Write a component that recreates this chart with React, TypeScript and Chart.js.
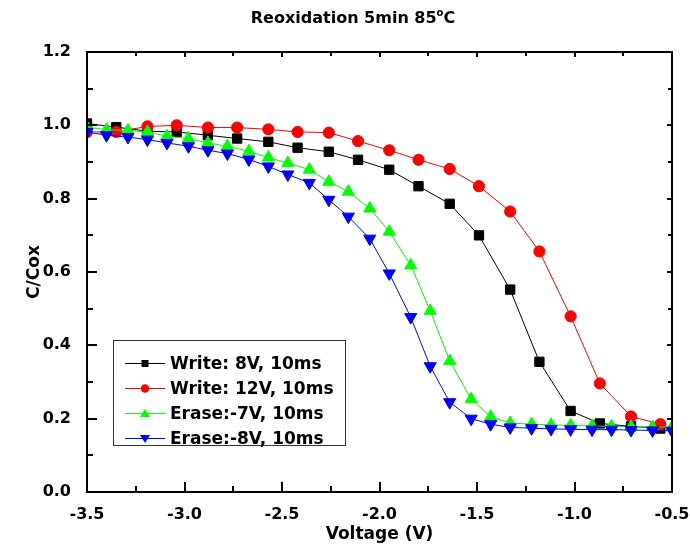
import React, { useEffect, useRef } from "react";
import { Chart, registerables } from "chart.js";

Chart.register(...registerables);

// ---- Text ----
const titleMain = "Reoxidation 5min 85";
const titleSup = "o";
const titleTail = "C";
const xAxisTitle = "Voltage (V)";
const yAxisTitle = "C/Cox";

// ---- Ticks ----
const xTickValues = [-3.5, -3.0, -2.5, -2.0, -1.5, -1.0, -0.5];
const yTickValues = [0, 0.2, 0.4, 0.6, 0.8, 1.0, 1.2];
const xMinorTicks = [-3.25, -2.75, -2.25, -1.75, -1.25, -0.75];
const yMinorTicks = [0.1, 0.3, 0.5, 0.7, 0.9, 1.1];

// ---- Series ----
const seriesLabels = [
  "Write: 8V, 10ms",
  "Write: 12V, 10ms",
  "Erase:-7V, 10ms",
  "Erase:-8V, 10ms",
];

const writeVoltages = [
  -3.5, -3.35, -3.19, -3.04, -2.88, -2.73, -2.57, -2.42, -2.26, -2.11,
  -1.95, -1.8, -1.64, -1.49, -1.33, -1.18, -1.02, -0.87, -0.71, -0.56,
];
const write8V = [
  1.005, 0.995, 0.984, 0.982, 0.973, 0.964, 0.955, 0.939, 0.928, 0.906,
  0.879, 0.834, 0.786, 0.7, 0.552, 0.355, 0.221, 0.187, 0.179, 0.173,
];
const write12V = [
  0.982, 0.982, 0.997, 1.0, 0.994, 0.994, 0.989, 0.982, 0.98, 0.957,
  0.932, 0.906, 0.881, 0.834, 0.765, 0.656, 0.479, 0.296, 0.206, 0.185,
];

const eraseVoltages = [
  -3.5, -3.4, -3.29, -3.19, -3.09, -2.98, -2.88, -2.78, -2.67, -2.57,
  -2.47, -2.36, -2.26, -2.16, -2.05, -1.95, -1.84, -1.74, -1.64, -1.53,
  -1.43, -1.33, -1.22, -1.12, -1.02, -0.91, -0.81, -0.71, -0.6, -0.5,
];
const erase7V = [
  0.995, 0.988, 0.986, 0.982, 0.97, 0.964, 0.952, 0.943, 0.929, 0.912,
  0.897, 0.879, 0.846, 0.819, 0.773, 0.71, 0.618, 0.494, 0.357, 0.253,
  0.205, 0.188, 0.185, 0.183, 0.182, 0.18, 0.179, 0.178, 0.177, 0.177,
];
const erase8V = [
  0.982, 0.973, 0.968, 0.961, 0.952, 0.943, 0.932, 0.923, 0.907, 0.888,
  0.866, 0.843, 0.797, 0.751, 0.691, 0.596, 0.477, 0.343, 0.245, 0.2,
  0.185, 0.176, 0.174, 0.172, 0.171, 0.17, 0.17, 0.169, 0.168, 0.167,
];

const seriesColors = ["#000000", "#ff0000", "#00ff00", "#0000ff"];
const seriesMarkers = ["square", "circle", "up", "down"];

const FONT = "'DejaVu Sans', 'Liberation Sans', sans-serif";

function drawMarker(ctx: CanvasRenderingContext2D, kind: string, x: number, y: number, color: string) {
  ctx.fillStyle = color;
  ctx.beginPath();
  if (kind === "square") {
    ctx.rect(x - 3.5, y - 3.5, 7, 7);
  } else if (kind === "circle") {
    ctx.arc(x, y, 4.2, 0, Math.PI * 2);
  } else if (kind === "up") {
    ctx.moveTo(x, y - 4.5);
    ctx.lineTo(x + 5, y + 3.5);
    ctx.lineTo(x - 5, y + 3.5);
    ctx.closePath();
  } else {
    ctx.moveTo(x, y + 4.5);
    ctx.lineTo(x + 5, y - 3.5);
    ctx.lineTo(x - 5, y - 3.5);
    ctx.closePath();
  }
  ctx.fill();
}

const titlePlugin = {
  id: "customTitle",
  afterDraw(chart: any) {
    const ctx: CanvasRenderingContext2D = chart.ctx;
    ctx.save();
    ctx.fillStyle = "#000";
    ctx.textBaseline = "middle";
    ctx.textAlign = "left";
    const mainFont = `bold 16px ${FONT}`;
    const supFont = `bold 10px ${FONT}`;
    ctx.font = mainFont;
    const w1 = ctx.measureText(titleMain).width;
    const w3 = ctx.measureText(titleTail).width;
    ctx.font = supFont;
    const w2 = ctx.measureText(titleSup).width;
    const total = w1 + w2 + w3;
    const cx = chart.width / 2 + 8;
    const cy = 19;
    let x = cx - total / 2;
    ctx.font = mainFont;
    ctx.fillText(titleMain, x, cy);
    x += w1;
    ctx.font = supFont;
    ctx.fillText(titleSup, x, cy - 6);
    x += w2;
    ctx.font = mainFont;
    ctx.fillText(titleTail, x, cy);
    ctx.restore();
  },
};

const framePlugin = {
  id: "frameTicks",
  afterDatasetsDraw(chart: any) {
    const ctx: CanvasRenderingContext2D = chart.ctx;
    const a = chart.chartArea;
    const xs = chart.scales.x;
    const ys = chart.scales.y;
    ctx.save();
    ctx.strokeStyle = "#000";
    ctx.lineWidth = 2;
    ctx.strokeRect(a.left, a.top, a.right - a.left, a.bottom - a.top);
    ctx.beginPath();
    const drawX = (vals: number[], len: number, topLen: number) => {
      for (const v of vals) {
        const p = Math.round(xs.getPixelForValue(v));
        ctx.moveTo(p, a.bottom);
        ctx.lineTo(p, a.bottom - len);
        ctx.moveTo(p, a.top);
        ctx.lineTo(p, a.top + topLen);
      }
    };
    const drawY = (vals: number[], len: number, rightLen: number) => {
      for (const v of vals) {
        const p = Math.round(ys.getPixelForValue(v));
        ctx.moveTo(a.left, p);
        ctx.lineTo(a.left + len, p);
        ctx.moveTo(a.right, p);
        ctx.lineTo(a.right - rightLen, p);
      }
    };
    drawX(xTickValues, 10, 5);
    drawX(xMinorTicks, 6, 4);
    drawY(yTickValues, 10, 5);
    drawY(yMinorTicks, 6, 4);
    ctx.stroke();

    // legend box
    const bx = a.left + 26;
    const by = a.top + 288;
    const bw = 232;
    const bh = 105;
    ctx.fillStyle = "#fff";
    ctx.fillRect(bx, by, bw, bh);
    ctx.lineWidth = 1;
    ctx.strokeStyle = "#333";
    ctx.strokeRect(bx + 0.5, by + 0.5, bw, bh);
    ctx.font = `bold 17px ${FONT}`;
    ctx.textBaseline = "middle";
    ctx.textAlign = "left";
    seriesLabels.forEach((label, i) => {
      const ly = Math.round(by + 23 + i * 25) + 0.5;
      const color = seriesColors[i];
      ctx.strokeStyle = color;
      ctx.lineWidth = 1;
      ctx.beginPath();
      ctx.moveTo(bx + 12, ly);
      ctx.lineTo(bx + 52, ly);
      ctx.stroke();
      drawMarker(ctx, seriesMarkers[i], bx + 32, ly, color);
      ctx.fillStyle = "#000";
      ctx.fillText(label, bx + 57, ly + 1);
    });
    ctx.restore();
  },
};

export default function App() {
  const ref = useRef<HTMLCanvasElement>(null);

  useEffect(() => {
    const canvas = ref.current;
    if (!canvas) return;
    const mk = (xs: number[], ys: number[]) => xs.map((x, i) => ({ x, y: ys[i] }));
    const chart = new Chart(canvas, {
      type: "line",
      data: {
        datasets: [
          {
            label: seriesLabels[0],
            data: mk(writeVoltages, write8V),
            borderColor: seriesColors[0],
            backgroundColor: seriesColors[0],
            pointBackgroundColor: seriesColors[0],
            pointBorderColor: seriesColors[0],
            borderWidth: 1,
            pointBorderWidth: 1,
            pointStyle: "rect",
            pointRadius: 6.6,
            order: 4,
            clip: 0,
          },
          {
            label: seriesLabels[1],
            data: mk(writeVoltages, write12V),
            borderColor: seriesColors[1],
            backgroundColor: seriesColors[1],
            pointBackgroundColor: seriesColors[1],
            pointBorderColor: seriesColors[1],
            borderWidth: 1,
            pointBorderWidth: 1,
            pointStyle: "circle",
            pointRadius: 5.6,
            order: 3,
            clip: 0,
          },
          {
            label: seriesLabels[2],
            data: mk(eraseVoltages, erase7V),
            borderColor: seriesColors[2],
            backgroundColor: seriesColors[2],
            pointBackgroundColor: seriesColors[2],
            pointBorderColor: seriesColors[2],
            borderWidth: 1,
            pointBorderWidth: 1,
            pointStyle: "triangle",
            pointRadius: 7,
            order: 2,
            clip: 0,
          },
          {
            label: seriesLabels[3],
            data: mk(eraseVoltages, erase8V),
            borderColor: seriesColors[3],
            backgroundColor: seriesColors[3],
            pointBackgroundColor: seriesColors[3],
            pointBorderColor: seriesColors[3],
            borderWidth: 1,
            pointBorderWidth: 1,
            pointStyle: "triangle",
            pointRotation: 180,
            pointRadius: 7,
            order: 1,
            clip: 0,
          },
        ] as any,
      },
      options: {
        animation: false,
        responsive: false,
        devicePixelRatio: 1,
        events: [],
        layout: { padding: { top: 52, right: 18, left: 0, bottom: 0 } },
        plugins: {
          legend: { display: false },
          tooltip: { enabled: false },
          title: { display: false },
        },
        scales: {
          x: {
            type: "linear",
            min: -3.5,
            max: -0.5,
            grid: { display: false },
            border: { display: false },
            afterBuildTicks: (scale: any) => {
              scale.ticks = xTickValues.map((v) => ({ value: v }));
            },
            afterFit: (scale: any) => {
              scale.height = 60;
              scale.paddingLeft = 0;
              scale.paddingRight = 0;
            },
            ticks: {
              padding: 5,
              color: "#000",
              font: { family: FONT, size: 16, weight: "bold" },
              maxRotation: 0,
              autoSkip: false,
              callback: (v: any) => Number(v).toFixed(1),
            },
            title: {
              display: true,
              text: xAxisTitle,
              color: "#000",
              font: { family: FONT, size: 17, weight: "bold" },
              padding: { top: 0, bottom: 7 },
            },
          },
          y: {
            type: "linear",
            min: 0,
            max: 1.2,
            grid: { display: false },
            border: { display: false },
            afterBuildTicks: (scale: any) => {
              scale.ticks = yTickValues.map((v) => ({ value: v }));
            },
            afterFit: (scale: any) => {
              scale.width = 87;
              scale.paddingTop = 0;
              scale.paddingBottom = 0;
            },
            ticks: {
              padding: 8,
              color: "#000",
              font: { family: FONT, size: 16, weight: "bold" },
              autoSkip: false,
              callback: (v: any) => Number(v).toFixed(1),
            },
            title: {
              display: true,
              text: yAxisTitle,
              color: "#000",
              font: { family: FONT, size: 17, weight: "bold" },
              padding: { top: 24, bottom: 0 },
            },
          },
        },
      } as any,
      plugins: [framePlugin, titlePlugin],
    });
    return () => chart.destroy();
  }, []);

  return (
    <div
      style={{
        position: "fixed",
        left: 0,
        top: 0,
        width: 690,
        height: 552,
        background: "#ffffff",
      }}
    >
      <canvas ref={ref} width={690} height={552} style={{ display: "block", width: 690, height: 552 }} />
    </div>
  );
}
